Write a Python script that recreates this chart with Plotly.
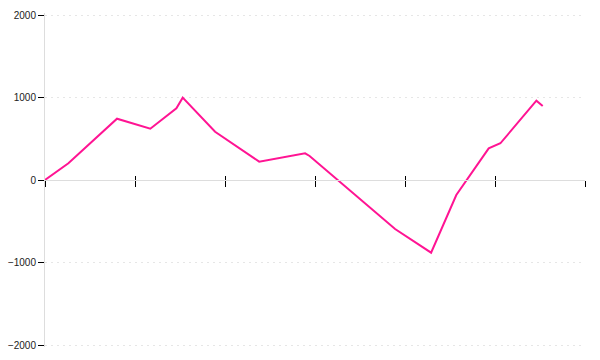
import plotly.graph_objects as go

# Data (x in tick-units, ticks at integers 0..6)
x_vals = [0, 0.26, 0.80, 1.17, 1.46, 1.53, 1.89, 2.38, 2.89, 2.94, 3.89, 4.29, 4.57, 4.93, 5.06, 5.46, 5.53]
y_vals = [0, 202, 743, 622, 869, 998, 585, 222, 324, 291, -594, -881, -182, 384, 445, 961, 897]
x_ticks = [0, 1, 2, 3, 4, 5, 6]
y_ticks = [-2000, -1000, 0, 1000, 2000]

fig = go.Figure()
fig.add_trace(go.Scatter(x=x_vals, y=y_vals, mode="lines",
                         line=dict(color="#ff1493", width=2),
                         showlegend=False, hoverinfo="skip"))
fig.add_trace(go.Scatter(x=x_vals, y=y_vals, mode="none", xaxis="x2",
                         showlegend=False, hoverinfo="skip"))

# plot height 334 px so that +/-2000 sit at 15 px from the edges (0.0825 px per unit)
y_half = 334 / 0.0825 / 2

fig.update_layout(
    width=600, height=360,
    margin=dict(l=45, r=15, t=13, b=13, pad=0),
    plot_bgcolor="white", paper_bgcolor="white",
    font=dict(family="Liberation Sans, Arial, sans-serif", size=10, color="#333"),
    xaxis=dict(range=[0, 6], tickvals=x_ticks, showticklabels=False,
               anchor="free", position=0.5, automargin=False,
               showline=True, linecolor="#dddddd", linewidth=1,
               ticks="outside", ticklen=6, tickcolor="#000", tickwidth=1,
               showgrid=False, zeroline=False),
    xaxis2=dict(range=[0, 6], tickvals=x_ticks, showticklabels=False,
                overlaying="x", anchor="free", position=0.5, automargin=False,
                showline=False, ticks="inside", ticklen=4, tickcolor="#000", tickwidth=1,
                showgrid=False, zeroline=False),
    yaxis=dict(range=[-y_half, y_half], tickvals=y_ticks, automargin=False,
               showline=True, linecolor="#dddddd", linewidth=1,
               ticks="outside", ticklen=6, tickcolor="#000", tickwidth=1,
               showgrid=True, gridcolor="#e6e6e6", griddash="2px,4px", gridwidth=1,
               zeroline=False, tickfont=dict(size=10, color="#222")),
)

fig.write_html("out.html")
